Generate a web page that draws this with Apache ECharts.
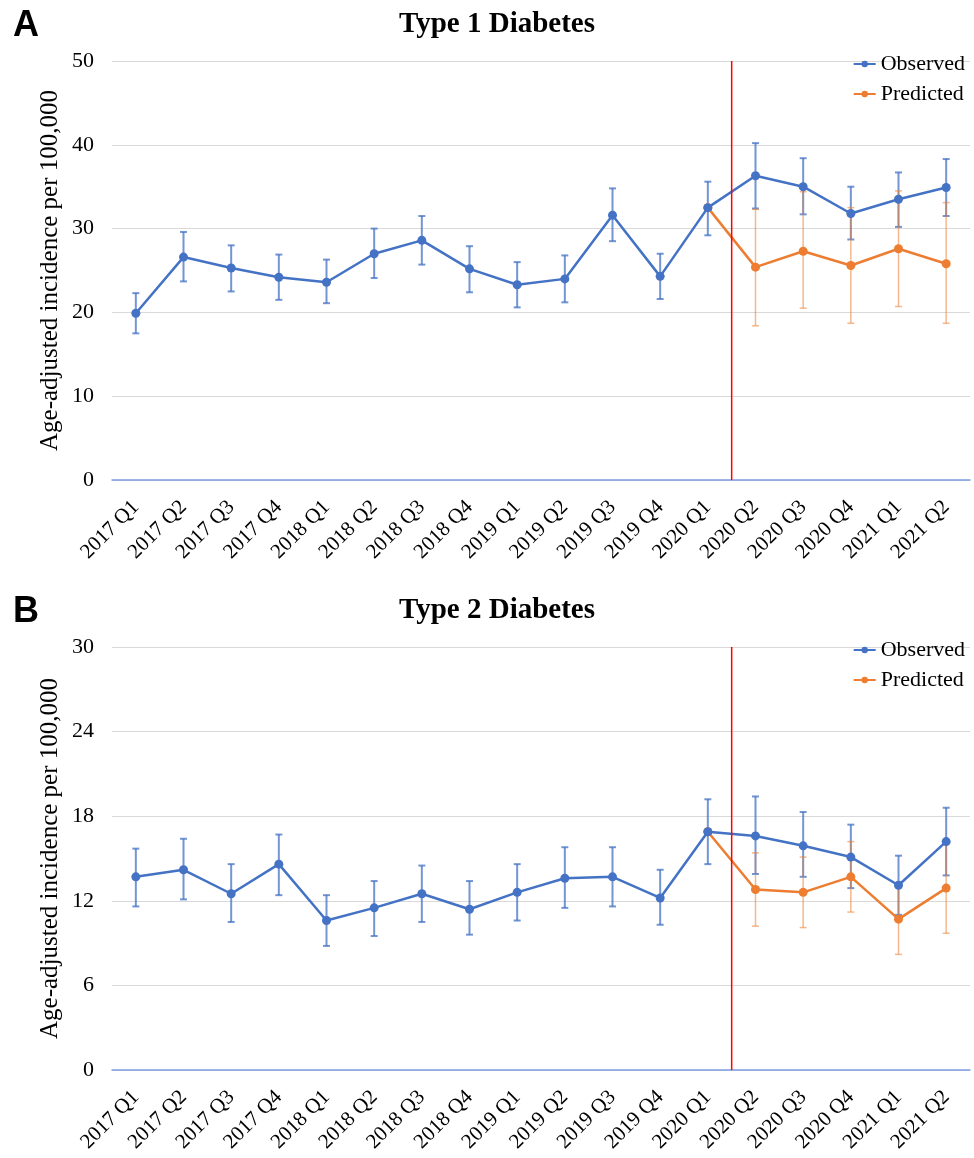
<!DOCTYPE html>
<html>
<head>
<meta charset="utf-8">
<script src="https://cdn.jsdelivr.net/npm/echarts@6/dist/echarts.min.js"></script>
<style>
  html, body { margin: 0; padding: 0; background: #ffffff; }
  #chart { width: 974px; height: 1158px; }
</style>
</head>
<body>
<div id="chart"></div>
<script>
// ---------- data ----------
const categories = ['2017 Q1','2017 Q2','2017 Q3','2017 Q4','2018 Q1','2018 Q2','2018 Q3','2018 Q4',
  '2019 Q1','2019 Q2','2019 Q3','2019 Q4','2020 Q1','2020 Q2','2020 Q3','2020 Q4','2021 Q1','2021 Q2'];

const t1Obs   = [19.9, 26.6, 25.3, 24.2, 23.6, 27.0, 28.6, 25.2, 23.3, 24.0, 31.6, 24.3, 32.5, 36.3, 35.0, 31.8, 33.5, 34.9];
const t1ObsLo = [17.5, 23.7, 22.5, 21.5, 21.1, 24.1, 25.7, 22.4, 20.6, 21.2, 28.5, 21.6, 29.2, 32.4, 31.7, 28.7, 30.2, 31.5];
const t1ObsHi = [22.3, 29.6, 28.0, 26.9, 26.3, 30.0, 31.5, 27.9, 26.0, 26.8, 34.8, 27.0, 35.6, 40.2, 38.4, 35.0, 36.7, 38.3];
const t1Pred   = [null,null,null,null,null,null,null,null,null,null,null,null, 32.5, 25.4, 27.3, 25.6, 27.6, 25.8];
const t1PredLo = [null,null,null,null,null,null,null,null,null,null,null,null, null, 18.4, 20.5, 18.7, 20.7, 18.7];
const t1PredHi = [null,null,null,null,null,null,null,null,null,null,null,null, null, 32.3, 34.4, 32.5, 34.5, 33.1];

const t2Obs   = [13.7, 14.2, 12.5, 14.6, 10.6, 11.5, 12.5, 11.4, 12.6, 13.6, 13.7, 12.2, 16.9, 16.6, 15.9, 15.1, 13.1, 16.2];
const t2ObsLo = [11.6, 12.1, 10.5, 12.4,  8.8,  9.5, 10.5,  9.6, 10.6, 11.5, 11.6, 10.3, 14.6, 13.9, 13.7, 12.9, 11.0, 13.8];
const t2ObsHi = [15.7, 16.4, 14.6, 16.7, 12.4, 13.4, 14.5, 13.4, 14.6, 15.8, 15.8, 14.2, 19.2, 19.4, 18.3, 17.4, 15.2, 18.6];
const t2Pred   = [null,null,null,null,null,null,null,null,null,null,null,null, 16.9, 12.8, 12.6, 13.7, 10.7, 12.9];
const t2PredLo = [null,null,null,null,null,null,null,null,null,null,null,null, null, 10.2, 10.1, 11.2,  8.2,  9.7];
const t2PredHi = [null,null,null,null,null,null,null,null,null,null,null,null, null, 15.4, 15.1, 16.2, 13.2, 16.1];

const panelLetters = ['A', 'B'];
const panelTitles = ['Type 1 Diabetes', 'Type 2 Diabetes'];
const yMax = [50, 30];
const yInterval = [10, 6];
const breakPosition = 12.5; // boundary between 2020 Q1 and 2020 Q2
const yAxisName = 'Age-adjusted incidence per 100,000';
const seriesNames = ['Observed', 'Predicted'];

// ---------- styling ----------
const BLUE = '#4472C4';
const ORANGE = '#ED7D31';
const SERIF = '"Liberation Serif", "Times New Roman", serif';
const SANS = '"Liberation Sans", Arial, sans-serif';

const panels = [
  { obs: t1Obs, obsLo: t1ObsLo, obsHi: t1ObsHi, pred: t1Pred, predLo: t1PredLo, predHi: t1PredHi },
  { obs: t2Obs, obsLo: t2ObsLo, obsHi: t2ObsHi, pred: t2Pred, predLo: t2PredLo, predHi: t2PredHi }
];

const grids = [
  { left: 112, top: 61, width: 858, height: 419 },
  { left: 112, top: 647, width: 858, height: 423 }
];

function errData(lo, hi) {
  const out = [];
  for (let i = 0; i < lo.length; i++) {
    if (lo[i] != null && hi[i] != null) out.push([i, lo[i], hi[i]]);
  }
  return out;
}

function errRender(color, width, capHalf) {
  return function (params, api) {
    const x = api.value(0);
    const top = api.coord([x, api.value(2)]);
    const bot = api.coord([x, api.value(1)]);
    const st = { stroke: color, lineWidth: width };
    return {
      type: 'group',
      children: [
        { type: 'line', shape: { x1: top[0], y1: top[1], x2: bot[0], y2: bot[1] }, style: st },
        { type: 'line', shape: { x1: top[0] - capHalf, y1: top[1], x2: top[0] + capHalf, y2: top[1] }, style: st },
        { type: 'line', shape: { x1: bot[0] - capHalf, y1: bot[1], x2: bot[0] + capHalf, y2: bot[1] }, style: st }
      ]
    };
  };
}

const titles = [];
const legends = [];
const xAxes = [];
const yAxes = [];
const series = [];

panels.forEach((p, k) => {
  const g = grids[k];
  titles.push({
    text: panelLetters[k], left: 8, top: g.top - 58,
    textStyle: { fontFamily: SANS, fontWeight: 'bold', fontSize: 36, color: '#000' }
  });
  titles.push({
    text: panelTitles[k], left: 492, textAlign: 'center', top: g.top - 56,
    textStyle: { fontFamily: SERIF, fontWeight: 'bold', fontSize: 29, color: '#000' }
  });
  legends.push({
    data: seriesNames, orient: 'vertical', right: 4, top: g.top - 13,
    itemWidth: 22, itemHeight: 8, itemGap: 8,
    textStyle: { fontFamily: SERIF, fontSize: 22, color: '#000' }
  });
  xAxes.push({
    type: 'category', gridIndex: k, data: categories, boundaryGap: true,
    axisLine: { show: true, lineStyle: { color: '#7f9fdf', width: 1.5 } },
    axisTick: { show: false },
    axisLabel: { rotate: 45, margin: 24, fontFamily: SERIF, fontSize: 21, color: '#000', interval: 0 }
  });
  yAxes.push({
    type: 'value', gridIndex: k, min: 0, max: yMax[k], interval: yInterval[k],
    name: yAxisName, nameLocation: 'middle', nameRotate: 90, nameGap: 49,
    nameMoveOverlap: false,
    nameTextStyle: { fontFamily: SERIF, fontSize: 25, color: '#000' },
    axisLine: { show: false }, axisTick: { show: false },
    axisLabel: { margin: 18, fontFamily: SERIF, fontSize: 22, color: '#000' },
    splitLine: { lineStyle: { color: '#d9d9d9', width: 1 } }
  });
});
// hidden value x axes for the period break line
panels.forEach((p, k) => {
  xAxes.push({ type: 'value', gridIndex: k, min: -0.5, max: categories.length - 0.5, show: false });
});

panels.forEach((p, k) => {
  series.push({
    type: 'custom', name: 'obsErr' + k, xAxisIndex: k, yAxisIndex: k, z: 2,
    renderItem: errRender('rgba(68,114,196,0.75)', 2, 3.5),
    encode: { x: 0, y: [1, 2] },
    data: errData(p.obsLo, p.obsHi)
  });
  series.push({
    type: 'custom', name: 'predErr' + k, xAxisIndex: k, yAxisIndex: k, z: 3,
    renderItem: errRender('rgba(237,125,49,0.55)', 1.5, 3.5),
    encode: { x: 0, y: [1, 2] },
    data: errData(p.predLo, p.predHi)
  });
  series.push({
    type: 'line', name: 'Predicted', xAxisIndex: k, yAxisIndex: k, z: 4,
    data: p.pred, connectNulls: false,
    symbol: 'circle', symbolSize: 9,
    itemStyle: { color: ORANGE }, lineStyle: { color: ORANGE, width: 2.5 },
    emphasis: { disabled: true }, animation: false
  });
  series.push({
    type: 'line', name: 'Observed', xAxisIndex: k, yAxisIndex: k, z: 5,
    data: p.obs,
    symbol: 'circle', symbolSize: 9,
    itemStyle: { color: BLUE }, lineStyle: { color: BLUE, width: 2.5 },
    emphasis: { disabled: true }, animation: false
  });
  series.push({
    type: 'line', name: 'break' + k, xAxisIndex: k + 2, yAxisIndex: k, z: 6,
    data: [[breakPosition, 0], [breakPosition, yMax[k]]],
    symbol: 'none', lineStyle: { color: '#ff0000', width: 1.5 }, animation: false
  });
});

const chart = echarts.init(document.getElementById('chart'), null, { renderer: 'canvas' });
chart.setOption({
  animation: false,
  backgroundColor: '#ffffff',
  title: titles,
  legend: legends,
  grid: grids,
  xAxis: xAxes,
  yAxis: yAxes,
  series: series
});
</script>
</body>
</html>
